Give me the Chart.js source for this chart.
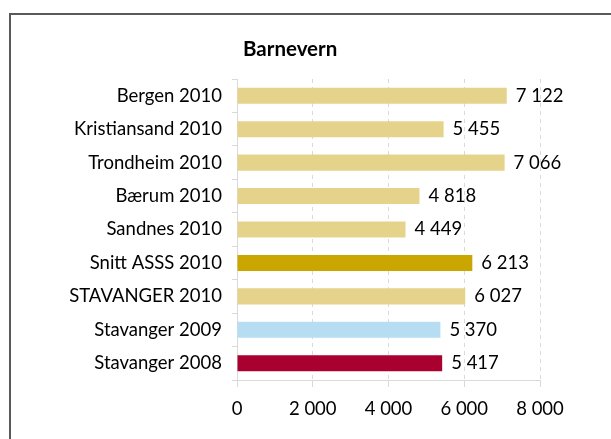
<!DOCTYPE html>
<html>
<head>
<meta charset="utf-8">
<script src="https://cdn.jsdelivr.net/npm/chart.js@4"></script>
<style>
  html, body { margin: 0; padding: 0; background: #fff; }
  #wrap { width: 611px; height: 439px; position: relative; }
</style>
</head>
<body>
<div id="wrap"><canvas id="barChart" width="611" height="439"></canvas></div>
<script>
// Barnevern – values per kommune
const categories = ['Bergen 2010', 'Kristiansand 2010', 'Trondheim 2010', 'Bærum 2010', 'Sandnes 2010',
    'Snitt ASSS 2010', 'STAVANGER 2010', 'Stavanger 2009', 'Stavanger 2008'];
const values = [7122, 5455, 7066, 4818, 4449, 6213, 6027, 5370, 5417];
const barColors = ['#E6D38B', '#E6D38B', '#E6D38B', '#E6D38B', '#E6D38B',
    '#C9A700', '#E6D38B', '#B7DDF3', '#A8002F'];
const xTicks = [0, 2000, 4000, 6000, 8000];

const FONT = 'Lato, "Open Sans", sans-serif';
const SIZE = 18.5;

function fmt(v) {
    return String(v).replace(/\B(?=(\d{3})+(?!\d))/g, ' ');
}

// frame + title
const framePlugin = {
    id: 'frame',
    beforeDraw: function(chart) {
        const ctx = chart.ctx;
        ctx.save();
        ctx.strokeStyle = '#595959';
        ctx.lineWidth = 2;
        ctx.strokeRect(10, 14, 700, 500);
        ctx.fillStyle = '#000';
        ctx.font = 'bold 20.5px ' + FONT;
        ctx.textBaseline = 'middle';
        ctx.textAlign = 'left';
        ctx.fillText('Barnevern', 243, 49);
        ctx.restore();
    }
};

// value labels right of each bar
const valueLabels = {
    id: 'valueLabels',
    afterDatasetsDraw: function(chart) {
        const ctx = chart.ctx;
        const meta = chart.getDatasetMeta(0);
        ctx.save();
        ctx.fillStyle = '#000';
        ctx.font = SIZE + 'px ' + FONT;
        ctx.textBaseline = 'middle';
        ctx.textAlign = 'left';
        meta.data.forEach(function(bar, i) {
            ctx.fillText(fmt(values[i]), bar.x + 9, bar.y);
        });
        ctx.restore();
    }
};

const ctx = document.getElementById('barChart');
new Chart(ctx, {
    type: 'bar',
    data: {
        labels: categories,
        datasets: [{
            data: values,
            backgroundColor: barColors,
            borderWidth: 0,
            barPercentage: 0.48,
            categoryPercentage: 1
        }]
    },
    options: {
        indexAxis: 'y',
        responsive: false,
        animation: false,
        layout: { padding: { top: 79, right: 71, left: 0, bottom: 0 } },
        plugins: {
            legend: { display: false },
            tooltip: { enabled: false },
            title: { display: false }
        },
        scales: {
            x: {
                min: 0,
                max: 8000,
                afterBuildTicks: function(axis) {
                    axis.ticks = xTicks.map(function(v) { return { value: v }; });
                },
                afterFit: function(axis) { axis.height = 59; },
                grid: { color: '#D9D9D9', tickLength: 7, lineWidth: 1 },
                border: { color: '#D9D9D9', dash: [4, 4] },
                ticks: {
                    color: '#000',
                    font: { family: FONT, size: SIZE },
                    padding: 11,
                    maxRotation: 0,
                    callback: function(v) { return fmt(v); }
                }
            },
            y: {
                afterFit: function(axis) { axis.width = 237; },
                grid: { drawOnChartArea: false, color: '#D9D9D9', tickLength: 5, offset: true },
                border: { color: '#D9D9D9' },
                ticks: {
                    color: '#000',
                    font: { family: FONT, size: SIZE },
                    padding: 10,
                    autoSkip: false
                }
            }
        }
    },
    plugins: [framePlugin, valueLabels]
});
</script>
</body>
</html>
